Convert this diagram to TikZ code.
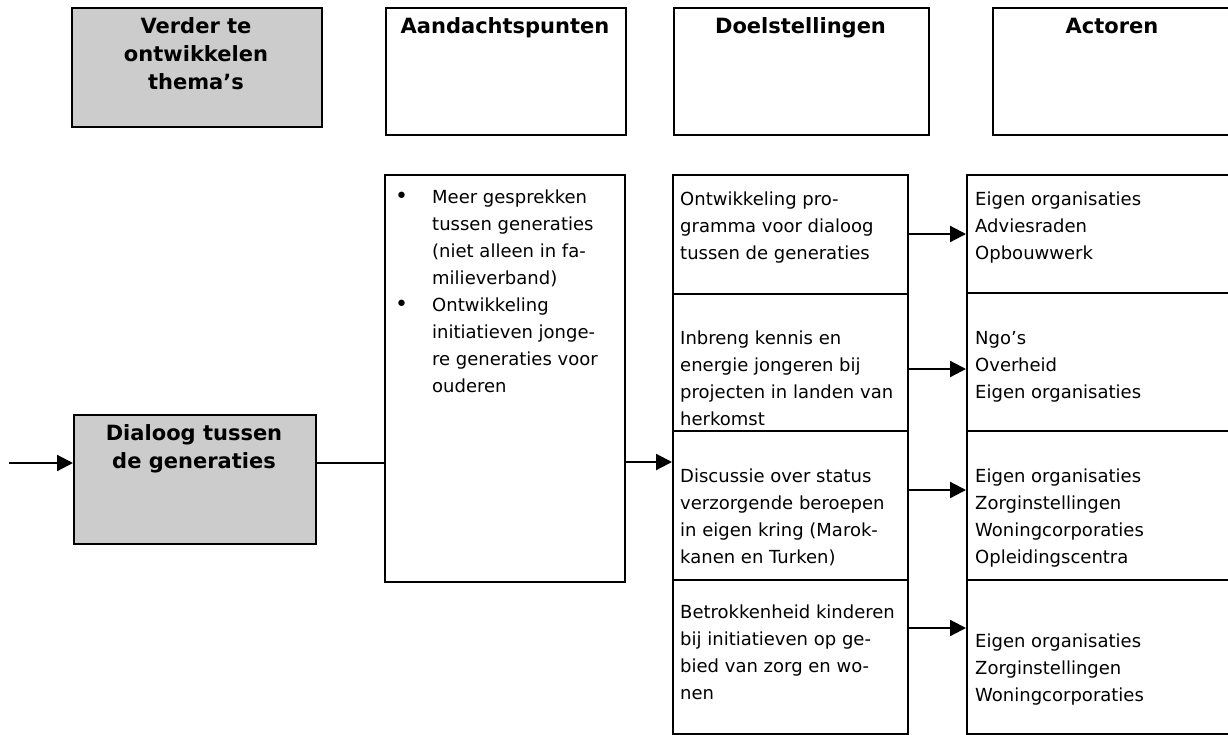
\documentclass[tikz,border=0pt]{standalone}
\usepackage{fontspec}
\setmainfont{DejaVu Sans}
\usetikzlibrary{arrows.meta}
\definecolor{boxgray}{RGB}{204,204,204}
\tikzset{
 box/.style={draw=black, line width=2.4pt, rectangle, inner sep=0pt, anchor=north west},
 graybox/.style={box, fill=boxgray},
 txt/.style={anchor=north west, inner sep=0pt, align=left, font=\fontsize{18}{27}\selectfont},
 ttl/.style={anchor=north, inner sep=0pt, align=center, font=\fontsize{21}{28}\selectfont\bfseries},
 arr/.style={line width=2.2pt, -{Triangle[length=16pt,width=16pt]}},
 thinline/.style={line width=1.3pt},
}
\newcommand\stA{\rule{0pt}{19pt}}
\newcommand\stB{\rule{0pt}{22pt}}
\newcommand\blt{\llap{\makebox[37pt][l]{\fontsize{22}{27}\selectfont•}}}
\begin{document}
\begin{tikzpicture}[x=1pt,y=-1pt]
\useasboundingbox (0,0) rectangle (1228,734);
\clip (0,0) rectangle (1228,734);
% header boxes
\node[graybox, minimum width=250pt, minimum height=119pt] (h1) at (71,7) {};
\node[box, minimum width=240pt, minimum height=127pt] (h2) at (385,7) {};
\node[box, minimum width=255pt, minimum height=127pt] (h3) at (673,7) {};
\node[box, minimum width=250pt, minimum height=127pt] (h4) at (992,7) {};
\node[ttl] (h1t) at (196,11) {\stB Verder te\\ontwikkelen\\thema’s};
\node[ttl] (h2t) at (505,11) {\stB Aandachtspunten};
\node[ttl] (h3t) at (800.5,11) {\stB Doelstellingen};
\node[ttl] (h4t) at (1112,11) {\stB Actoren};
% main row
\node[graybox, minimum width=242pt, minimum height=129pt] (dlg) at (73,414) {};
\node[ttl] (dlgt) at (194,418) {\stB Dialoog tussen\\de generaties};
\node[box, minimum width=240pt, minimum height=407pt] (aan) at (384,174) {};
\node[txt] (aant) at (432,184) {\stA\blt Meer gesprekken\\tussen generaties\\(niet alleen in fa-\\milieverband)\\\blt Ontwikkeling\\initiatieven jonge-\\re generaties voor\\ouderen};
% doelstellingen
\node[box, minimum width=235pt, minimum height=119pt] (d1) at (672,174) {};
\node[box, minimum width=235pt, minimum height=137pt] (d2) at (672,293) {};
\node[box, minimum width=235pt, minimum height=149pt] (d3) at (672,430) {};
\node[box, minimum width=235pt, minimum height=154pt] (d4) at (672,579) {};
\node[txt] (d1t) at (680,186) {\stA Ontwikkeling pro-\\gramma voor dialoog\\tussen de generaties};
\node[txt] (d2t) at (680,325) {\stA Inbreng kennis en\\energie jongeren bij\\projecten in landen van\\herkomst};
\node[txt] (d3t) at (680,463) {\stA Discussie over status\\verzorgende beroepen\\in eigen kring (Marok-\\kanen en Turken)};
\node[txt] (d4t) at (680,599) {\stA Betrokkenheid kinderen\\bij initiatieven op ge-\\bied van zorg en wo-\\nen};
% actoren
\node[box, minimum width=280pt, minimum height=118pt] (a1) at (966,174) {};
\node[box, minimum width=280pt, minimum height=138pt] (a2) at (966,292) {};
\node[box, minimum width=280pt, minimum height=149pt] (a3) at (966,430) {};
\node[box, minimum width=280pt, minimum height=154pt] (a4) at (966,579) {};
\node[txt] (a1t) at (975,186) {\stA Eigen organisaties\\Adviesraden\\Opbouwwerk};
\node[txt] (a2t) at (975,325) {\stA Ngo’s\\Overheid\\Eigen organisaties};
\node[txt] (a3t) at (975,463) {\stA Eigen organisaties\\Zorginstellingen\\Woningcorporaties\\Opleidingscentra};
\node[txt] (a4t) at (975,628) {\stA Eigen organisaties\\Zorginstellingen\\Woningcorporaties};
% connectors
\coordinate (start) at (9,463);
\coordinate (lv0) at (0,463);
\coordinate (lv1) at (0,462);
\coordinate (y1) at (0,234);
\coordinate (y2) at (0,369);
\coordinate (y3) at (0,490);
\coordinate (y4) at (0,628);
\draw[arr] (start) -- (dlg.west |- lv0);
\draw[thinline] (dlg.east |- lv0) -- (aan.west |- lv0);
\draw[arr] (aan.east |- lv1) -- (d3.west |- lv1);
\draw[arr] (d1.east |- y1) -- (a1.west |- y1);
\draw[arr] (d2.east |- y2) -- (a2.west |- y2);
\draw[arr] (d3.east |- y3) -- (a3.west |- y3);
\draw[arr] (d4.east |- y4) -- (a4.west |- y4);
\end{tikzpicture}
\end{document}
